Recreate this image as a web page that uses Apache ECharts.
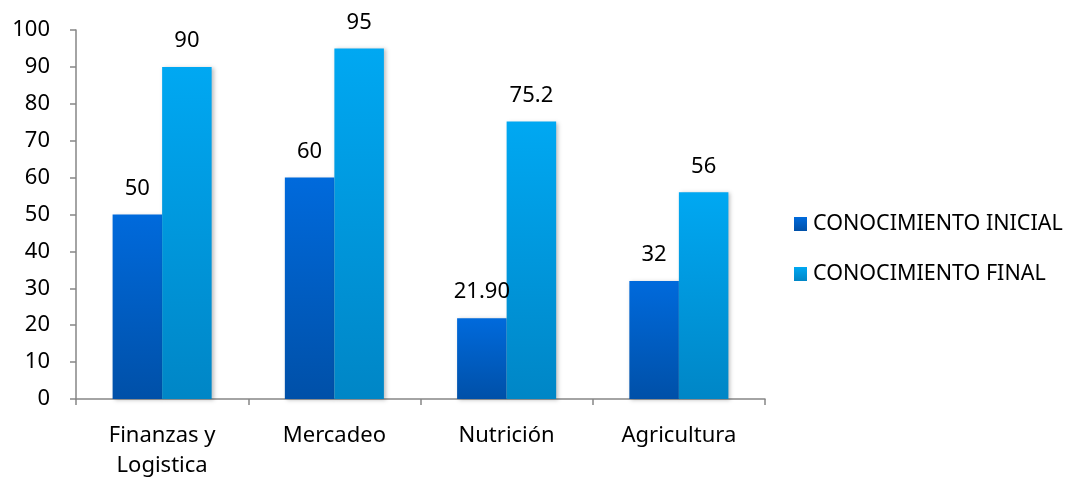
<!DOCTYPE html>
<html>
<head>
<meta charset="utf-8">
<script src="https://cdn.jsdelivr.net/npm/echarts@6/dist/echarts.min.js"></script>
<style>
  html, body { margin: 0; padding: 0; background: #fff; }
  #chart { width: 1077px; height: 478px; }
</style>
</head>
<body>
<div id="chart"></div>
<script>
const categories = ['Finanzas y\nLogistica', 'Mercadeo', 'Nutrición', 'Agricultura'];
const initialValues = [50, 60, 21.9, 32];
const finalValues = [90, 95, 75.2, 56];
const initialLabels = ['50', '60', '21.90', '32'];
const finalLabels = ['90', '95', '75.2', '56'];
const seriesNames = ['CONOCIMIENTO INICIAL', 'CONOCIMIENTO FINAL'];

const font = 'Noto Sans';

const grad = (top, bottom) => new echarts.graphic.LinearGradient(0, 0, 0, 1, [
  { offset: 0, color: top },
  { offset: 1, color: bottom }
]);

const chart = echarts.init(document.getElementById('chart'));

const labelStyle = (texts) => ({
  show: true,
  position: 'top',
  distance: 15,
  color: '#000',
  fontFamily: font,
  fontSize: 22,
  formatter: (p) => texts[p.dataIndex]
});

chart.setOption({
  animation: false,
  grid: {
    left: 76,
    right: 312,
    top: 30,
    bottom: 79,
    containLabel: false,
    outerBoundsMode: 'none'
  },
  legend: {
    orient: 'vertical',
    left: 789,
    top: 208,
    itemWidth: 13,
    itemHeight: 14,
    itemGap: 28,
    icon: 'rect',
    textStyle: { fontFamily: font, fontSize: 21.5, color: '#000', padding: [0, 0, 0, 1] },
    data: seriesNames
  },
  xAxis: {
    type: 'category',
    data: categories,
    axisLine: { lineStyle: { color: '#868686', width: 1.5 } },
    axisTick: { show: true, length: 6, lineStyle: { color: '#868686', width: 1.5 } },
    axisLabel: {
      color: '#000',
      fontFamily: font,
      fontSize: 22,
      margin: 22,
      lineHeight: 30
    }
  },
  yAxis: {
    type: 'value',
    min: 0,
    max: 100,
    interval: 10,
    axisLine: { show: true, lineStyle: { color: '#868686', width: 1.5 } },
    axisTick: { show: true, length: 6, lineStyle: { color: '#868686', width: 1.5 } },
    splitLine: { show: false },
    axisLabel: {
      color: '#000',
      fontFamily: font,
      fontSize: 22,
      margin: 26
    }
  },
  series: [
    {
      name: seriesNames[0],
      type: 'bar',
      data: initialValues,
      barGap: '0%',
      barCategoryGap: '42.5%',
      itemStyle: {
        color: grad('#006ADC', '#0050A8'),
        shadowColor: 'rgba(0,0,0,0.25)',
        shadowBlur: 4,
        shadowOffsetX: 2,
        shadowOffsetY: 1
      },
      label: labelStyle(initialLabels)
    },
    {
      name: seriesNames[1],
      type: 'bar',
      data: finalValues,
      itemStyle: {
        color: grad('#00A8F2', '#0086C6'),
        shadowColor: 'rgba(0,0,0,0.25)',
        shadowBlur: 4,
        shadowOffsetX: 2,
        shadowOffsetY: 1
      },
      label: labelStyle(finalLabels)
    }
  ]
});
</script>
</body>
</html>
